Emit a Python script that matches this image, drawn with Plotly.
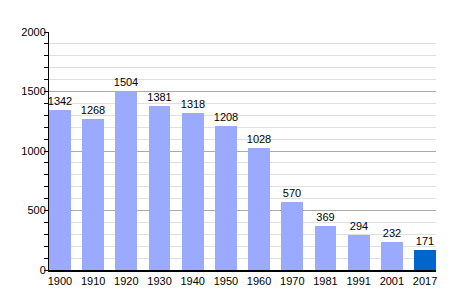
import plotly.graph_objects as go

years = ["1900", "1910", "1920", "1930", "1940", "1950", "1960", "1970", "1981", "1991", "2001", "2017"]
population = [1342, 1268, 1504, 1381, 1318, 1208, 1028, 570, 369, 294, 232, 171]
bar_colors = ["#99aaff"] * 11 + ["#0066cc"]
y_ticks = [0, 500, 1000, 1500, 2000]

xpos = list(range(len(years)))

fig = go.Figure()
fig.add_trace(go.Bar(
    x=xpos, y=population, width=0.66,
    marker=dict(color=bar_colors, line=dict(width=0)),
    text=[str(v) for v in population], textposition="outside",
    textfont=dict(family="Liberation Sans, Arial, sans-serif", size=11, color="black"),
    constraintext="none",
    cliponaxis=False,
))
fig.update_layout(
    width=464, height=300,
    margin=dict(l=49, r=28, t=32, b=30),
    plot_bgcolor="white", paper_bgcolor="white",
    showlegend=False,
    font=dict(family="Liberation Sans, Arial, sans-serif", size=11, color="black"),
    bargap=0,
)
fig.update_xaxes(
    range=[-0.33, 11.33], tickvals=xpos, ticktext=years,
    showgrid=False, showline=True, linecolor="black", linewidth=1.5,
    ticks="", zeroline=False, tickfont=dict(size=11),
)
fig.update_yaxes(
    range=[0, 2000], tickvals=y_ticks,
    showgrid=True, gridcolor="#aaaaaa", gridwidth=1,
    showline=True, linecolor="black", linewidth=1,
    ticks="", zeroline=False, tickfont=dict(size=11),
    minor=dict(dtick=100, showgrid=True, gridcolor="#e0e0e0", gridwidth=1,
               ticks="outside", ticklen=4, tickcolor="black"),
)
fig.write_html("out.html")
